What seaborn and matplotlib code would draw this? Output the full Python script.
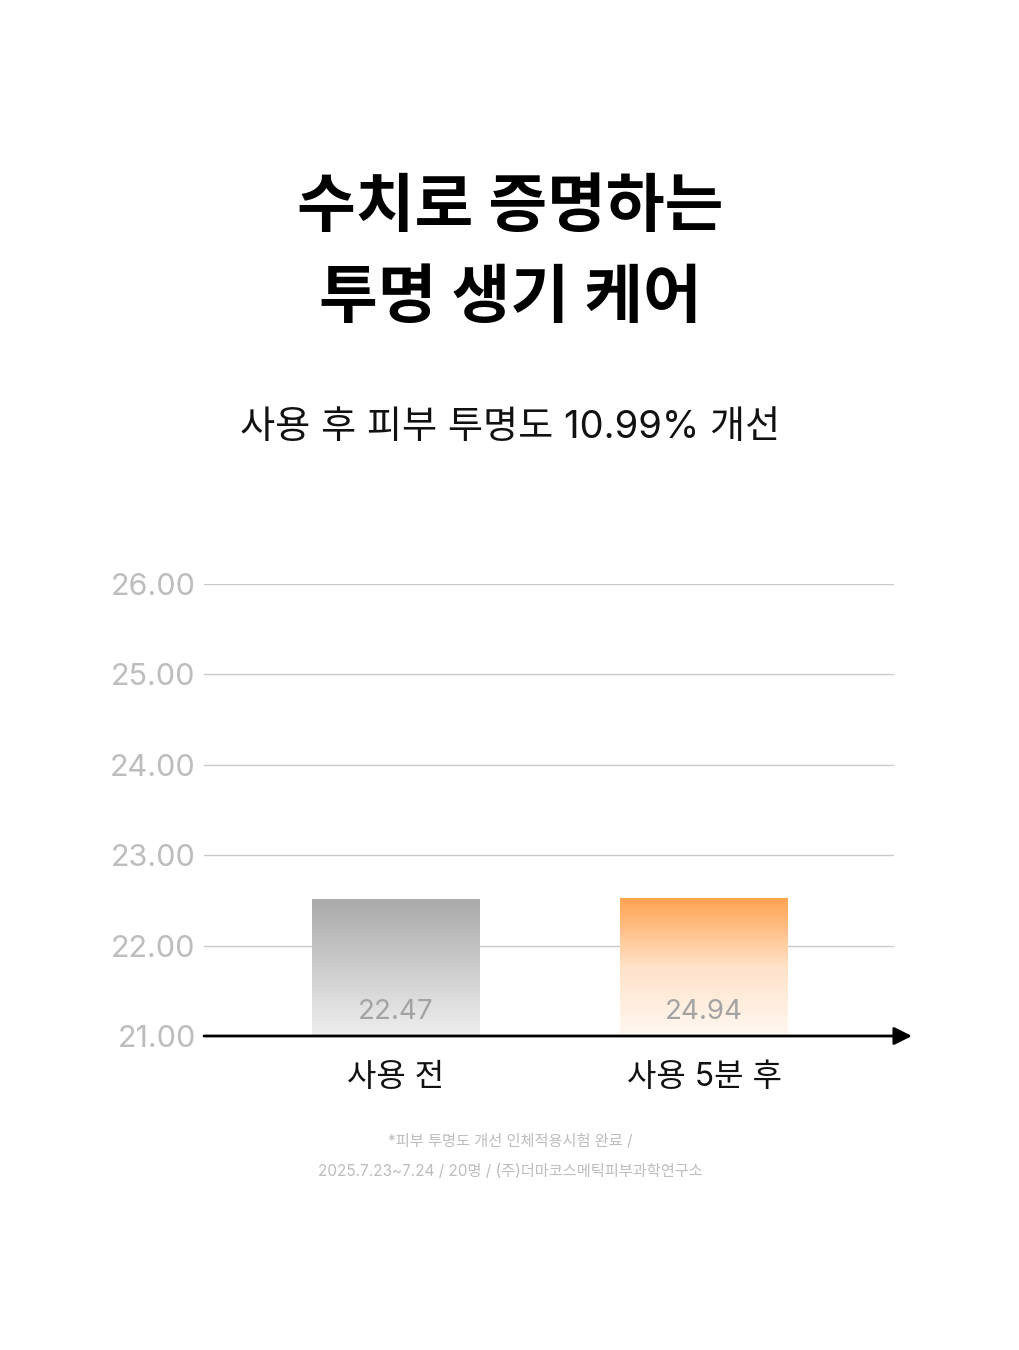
import numpy as np
import pandas as pd
import matplotlib
matplotlib.use("Agg")
import matplotlib.pyplot as plt
import seaborn as sns
from matplotlib.colors import LinearSegmentedColormap

# chart values
categories = ["사용 전", "사용 5분 후"]
bar_heights = [22.52, 22.53]          # heights as drawn in the picture
value_labels = ["22.47", "24.94"]
y_ticks = [21, 22, 23, 24, 25, 26]
title_lines = ["수치로 증명하는", "투명 생기 케어"]
subtitle = "사용 후 피부 투명도 10.99% 개선"
footnote = ["*피부 투명도 개선 인체적용시험 완료 /",
            "2025.7.23~7.24 / 20명 / (주)더마코스메틱피부과학연구소"]

sns.set_theme(style="white")
# Inter for latin/digits, Noto CJK for hangul
plt.rcParams['font.family'] = ['Inter', 'Noto Sans CJK KR', 'DejaVu Sans']

df = pd.DataFrame({"group": categories, "value": bar_heights})

fig = plt.figure(figsize=(10.2, 13.5), dpi=100)
ax = fig.add_axes([204 / 1020, 314 / 1350, 690 / 1020, 452 / 1350])

sns.barplot(data=df, x="group", y="value", ax=ax, width=0.545,
            color="white", edgecolor="none", linewidth=0)

ax.set_ylim(21, 26)
ax.set_xlim(-0.623, 1.617)
ax.set_yticks(y_ticks)
ax.set_yticklabels([f"{v:.2f}" for v in y_ticks], color="#bdbdbd", fontsize=22)
ax.tick_params(axis="y", length=0, pad=6)
ax.tick_params(axis="x", length=0, pad=19, labelsize=23, labelcolor="#111111")
ax.set_xlabel("")
ax.set_ylabel("")
for s in ax.spines.values():
    s.set_visible(False)

# grid lines
for v in y_ticks[1:]:
    ax.axhline(v, color="#cacaca", lw=1.0, zorder=0)

# gradient fills clipped to the bars
grads = [
    LinearSegmentedColormap.from_list("g", ["#efefef", "#a9a9a9"]),
    LinearSegmentedColormap.from_list("o", ["#fff8f2", "#ffe2c8", "#ffa24f"]),
]
grad = np.linspace(0, 1, 256).reshape(-1, 1)
for patch, cmap, lab in zip(ax.patches, grads, value_labels):
    x0, y0 = patch.get_x(), patch.get_y()
    w, h = patch.get_width(), patch.get_height()
    im = ax.imshow(grad, cmap=cmap, aspect="auto", origin="lower",
                   extent=[x0, x0 + w, 21, y0 + h], zorder=2)
    im.set_clip_path(patch)
    ax.text(x0 + w / 2, 21.265, lab, ha="center", va="center",
            fontsize=20, color="#a3a3a3", zorder=3)

ax.set_xlim(-0.623, 1.617)
ax.set_ylim(21, 26)

# x axis with arrow
ax.annotate("", xy=(1.026, 0), xytext=(0, 0), xycoords="axes fraction",
            arrowprops=dict(arrowstyle="-|>,head_length=0.9,head_width=0.45",
                            color="black", lw=2, shrinkA=0, shrinkB=0),
            annotation_clip=False, zorder=5)

# titles
fig.text(0.5, 1 - 209 / 1350, title_lines[0], ha="center", va="center",
         fontsize=46, fontweight="bold", color="black")
fig.text(0.5, 1 - 300 / 1350, title_lines[1], ha="center", va="center",
         fontsize=46, fontweight="bold", color="black")
fig.text(0.5, 1 - 428 / 1350, subtitle, ha="center", va="center",
         fontsize=27.5, color="#111111")

fig.text(0.5, 1 - 1141 / 1350, footnote[0], ha="center", va="center",
         fontsize=11, color="#bdbdbd")
fig.text(0.5, 1 - 1171 / 1350, footnote[1], ha="center", va="center",
         fontsize=11, color="#bdbdbd")

fig.savefig("out.png", dpi=100, facecolor="white")
